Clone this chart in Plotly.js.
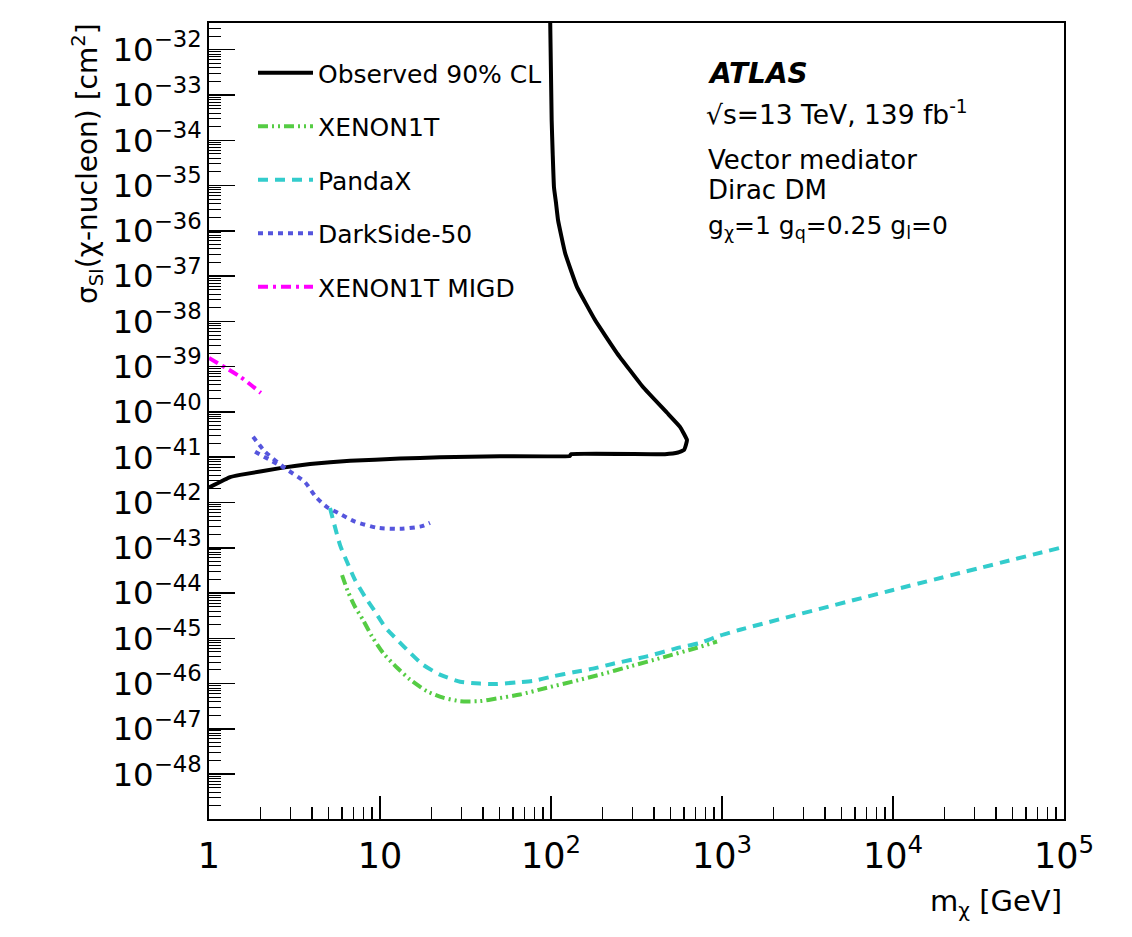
<!DOCTYPE html>
<html>
<head>
<meta charset="utf-8">
<script src="https://cdn.plot.ly/plotly-3.0.1.min.js"></script>
<style>html,body{margin:0;padding:0;background:#fff;}</style>
</head>
<body>
<div id="chart" style="width:1132px;height:937px;"></div>
<script>
// ---- data ----
const seriesNames = ["Observed 90% CL", "XENON1T", "PandaX", "DarkSide-50", "XENON1T MIGD"];

const obsMass  = [1.0, 1.33, 1.52, 2.71, 3.9, 6.68, 13.1, 22.4, 50.3, 129, 131, 464, 553, 600, 615, 624, 568, 477, 345, 243, 181, 142, 121, 110, 107, 104.1, 102.3, 100.9, 98.6];
const obsXsec  = [2.14e-42, 3.63e-42, 4.07e-42, 5.89e-42, 7.08e-42, 8.32e-42, 9.33e-42, 1.0e-41, 1.05e-41, 1.07e-41, 1.17e-41, 1.17e-41, 1.27e-41, 1.45e-41, 1.86e-41, 2.4e-41, 4.7e-41, 9.6e-41, 3.55e-40, 2.0e-39, 1.07e-38, 5.7e-38, 3.2e-37, 1.7e-36, 4.1e-36, 9.1e-36, 5.1e-35, 2.75e-34, 1e-31];

const xenonMass = [6.0, 6.5, 7.14, 7.95, 8.98, 10.4, 12.6, 15.0, 18.8, 23.4, 29.4, 38.4, 48.3, 65.9, 94.8, 135, 194, 290, 452, 714, 935];
const xenonXsec = [2.5e-44, 1.07e-44, 5.0e-45, 2.57e-45, 1.10e-45, 4.8e-46, 2.24e-46, 1.23e-46, 6.8e-47, 4.9e-47, 4.1e-47, 4.1e-47, 4.7e-47, 5.75e-47, 8.1e-47, 1.12e-46, 1.58e-46, 2.4e-46, 3.8e-46, 6.2e-46, 8.5e-46];

const pandaMass = [5.10, 5.84, 6.41, 7.14, 8.17, 9.35, 10.7, 12.6, 15.0, 17.8, 22.4, 29.4, 38.4, 48.3, 63.2, 78.5, 103, 135, 176, 231, 364, 568, 743, 973, 1274, 10000, 100000];
const pandaXsec = [7.6e-43, 1.15e-43, 4.9e-44, 1.95e-44, 8.3e-45, 3.9e-45, 1.78e-45, 9.3e-46, 4.8e-46, 2.63e-46, 1.58e-46, 1.10e-46, 1.0e-46, 9.8e-47, 1.07e-46, 1.15e-46, 1.45e-46, 1.78e-46, 2.14e-46, 2.75e-46, 4.0e-46, 6.3e-46, 7.9e-46, 1.15e-45, 1.55e-45, 1.17e-44, 1.05e-43];

const dsMass = [1.81, 2.13, 2.78, 3.64, 4.22, 4.90, 5.68, 7.14, 9.73, 13.45, 17.6, 19.6, null, 1.86, 2.27, 2.78];
const dsXsec = [2.82e-41, 1.32e-41, 5.75e-42, 2.82e-42, 1.32e-42, 7.9e-43, 5.9e-43, 3.8e-43, 2.75e-43, 2.63e-43, 3.0e-43, 3.55e-43, null, 1.32e-41, 8.7e-42, 5.75e-42];

const migdMass = [1.0, 1.52, 2.01];
const migdXsec = [1.55e-39, 6.0e-40, 2.63e-40];

// ---- styling ----
const FONT = "DejaVu Sans";
const colors = ["#000000", "#55cc44", "#33cccc", "#5555dd", "#ff00ff"];
const dashes = ["solid", "10px,4px,2px,4px,2px,4px", "10px,7px", "5px,5px", "10px,5px,3px,5px"];
const shapes = ["spline", "spline", "spline", "spline", "spline"];
const smooth = [0.3, 0.6, 0.6, 0.6, 0.6];
const xs = [obsMass, xenonMass, pandaMass, dsMass, migdMass];
const ys = [obsXsec, xenonXsec, pandaXsec, dsXsec, migdXsec];

const traces = seriesNames.map((n, i) => ({
  type: "scatter", mode: "lines", name: n,
  x: xs[i], y: ys[i],
  legendgroup: "g" + i,
  connectgaps: false,
  line: {color: colors[i], width: 4, dash: dashes[i], shape: shapes[i], smoothing: smooth[i]}
}));

const W = 1132, H = 937;
const mL = 209, mR = 68, mT = 23, mB = 118;
const pw = W - mL - mR, ph = H - mT - mB;
const px = X => (X - mL) / pw;
const py = Y => (H - mB - Y) / ph;

const f = s => ({family: FONT, size: s, color: "#000"});
const annotations = [
  {text: "<b><i>ATLAS</i></b>", x: px(706), y: py(73), font: f(28)},
  {text: "√s=13 TeV, 139 fb<sup>-1</sup>", x: px(704), y: py(113), font: f(26.5)},
  {text: "Vector mediator", x: px(706), y: py(160), font: f(26)},
  {text: "Dirac DM", x: px(706), y: py(190), font: f(26)},
  {text: "g<sub>χ</sub>=1 g<sub>q</sub>=0.25 g<sub>l</sub>=0", x: px(706), y: py(227), font: f(25)}
].map(a => Object.assign({xref: "paper", yref: "paper", xanchor: "left", yanchor: "middle", showarrow: false, align: "left"}, a));

annotations.push({
  text: "σ<sub>SI</sub>(χ-nucleon) [cm<sup>2</sup>]", xref: "paper", yref: "paper",
  x: px(87), y: 1.003, xanchor: "center", yanchor: "top", textangle: -90, showarrow: false,
  font: f(28)
});
annotations.push({
  text: "m<sub>χ</sub> [GeV]", xref: "paper", yref: "paper",
  x: 1, y: py(903), xanchor: "right", yanchor: "middle", showarrow: false,
  font: f(29)
});

const layout = {
  width: W, height: H,
  margin: {l: mL, r: mR, t: mT, b: mB, pad: 0},
  paper_bgcolor: "#fff", plot_bgcolor: "#fff",
  font: {family: FONT, color: "#000"},
  showlegend: true,
  legend: {
    x: px(253), y: py(50), xanchor: "left", yanchor: "top",
    bgcolor: "rgba(0,0,0,0)", borderwidth: 0,
    font: f(25),
    tracegroupgap: 18, itemwidth: 55
  },
  xaxis: {
    type: "log", range: [0, 5], dtick: 1,
    exponentformat: "power",
    showgrid: false, zeroline: false,
    showline: true, linecolor: "#000", linewidth: 2, mirror: true,
    ticks: "inside", ticklen: 23, tickwidth: 1.5, tickcolor: "#000",
    minor: {ticks: "inside", ticklen: 12, tickwidth: 1.5, tickcolor: "#000", dtick: "D1", showgrid: false},
    tickfont: f(28),
    ticklabelstandoff: 6
  },
  yaxis: {
    type: "log", range: [-48.99, -31.41], dtick: 1,
    exponentformat: "power",
    showgrid: false, zeroline: false,
    showline: true, linecolor: "#000", linewidth: 2, mirror: true,
    ticks: "inside", ticklen: 26, tickwidth: 1.5, tickcolor: "#000",
    minor: {ticks: "inside", ticklen: 12, tickwidth: 1, tickcolor: "#000", dtick: "D1", showgrid: false},
    tickfont: f(26)
  },
  annotations: annotations
};

Plotly.newPlot("chart", traces, layout, {staticPlot: true, displayModeBar: false});
</script>
</body>
</html>
